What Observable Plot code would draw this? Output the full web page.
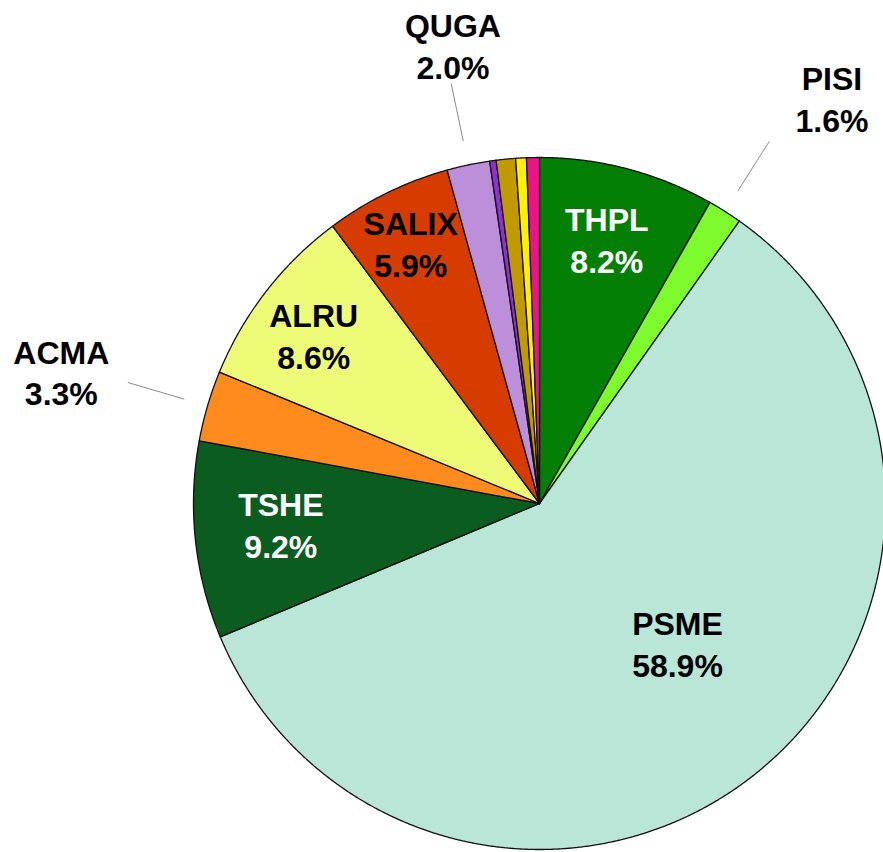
<!DOCTYPE html>
<html>
<head>
<meta charset="utf-8">
<script src="https://cdn.jsdelivr.net/npm/d3@7"></script>
<script src="https://cdn.jsdelivr.net/npm/@observablehq/plot@0.6"></script>
<style>
  body { margin: 0; background: #ffffff; }
  #chart svg { display: block; }
</style>
</head>
<body>
<div id="chart"></div>
<script>
// ---- data (clockwise from 12 o'clock) ----
const species = ["THPL", "PISI", "PSME", "TSHE", "ACMA", "ALRU", "SALIX", "QUGA", "OTHER1", "OTHER2", "OTHER3", "OTHER4"];
const shares = [8.2, 1.6, 58.9, 9.2, 3.3, 8.6, 5.9, 2.0, 0.3, 0.9, 0.5, 0.6];
const labelled = ["THPL", "PISI", "PSME", "TSHE", "ACMA", "ALRU", "SALIX", "QUGA"];
const outsideLabels = ["PISI", "ACMA", "QUGA"];

// ---- styles ----
const sliceColors = {
  THPL: "#037f05", PISI: "#7dfb2c", PSME: "#b9e6d7", TSHE: "#0a5c1f",
  ACMA: "#ff8a1d", ALRU: "#eefb76", SALIX: "#d63b00", QUGA: "#bd8fda",
  OTHER1: "#8e2fd8", OTHER2: "#c09a00", OTHER3: "#fff000", OTHER4: "#ee1288"
};
const labelInk = { THPL: "#ffffff", TSHE: "#ffffff" };

// ---- placement (radius fraction, angle nudge in degrees) ----
const W = 883, H = 852, CX = 539, CY = 503, R = 346;
const placement = {
  THPL: { r: 0.79, da: -0.5 }, PSME: { r: 0.566, da: -6.1 }, TSHE: { r: 0.75, da: 1.6 },
  ALRU: { r: 0.815, da: -1.0 }, SALIX: { r: 0.84, da: -0.2 },
  QUGA: { r: 1.35, da: 1.2 }, PISI: { r: 1.445, da: 3.4 }, ACMA: { r: 1.434, da: -0.9 }
};
const leader = { r0: 1.07, r1: 1.24 };

// ---- derived geometry from data ----
const total = d3.sum(shares);
let acc = 0;
const slices = species.map((name, i) => {
  const a0 = acc / total * 360;
  acc += shares[i];
  const a1 = acc / total * 360;
  return { name, value: shares[i], a0, a1, mid: (a0 + a1) / 2, color: sliceColors[name] };
});
const rad = (deg) => deg * Math.PI / 180;
const px = (deg, r) => r * Math.sin(rad(deg));
const py = (deg, r) => r * Math.cos(rad(deg));

const slicePoints = [];
for (const s of slices) {
  slicePoints.push({ name: s.name, color: s.color, x: 0, y: 0 });
  const n = Math.max(2, Math.ceil((s.a1 - s.a0) / 0.25));
  for (let k = 0; k <= n; k++) {
    const a = s.a0 + (s.a1 - s.a0) * k / n;
    slicePoints.push({ name: s.name, color: s.color, x: px(a, 1), y: py(a, 1) });
  }
  slicePoints.push({ name: s.name, color: s.color, x: 0, y: 0 });
}

const labels = slices.filter(s => labelled.includes(s.name)).map(s => {
  const p = placement[s.name];
  const a = s.mid + p.da;
  return {
    x: px(a, p.r), y: py(a, p.r),
    text: `${s.name}\n${s.value.toFixed(1)}%`,
    ink: labelInk[s.name] || "#000000"
  };
});

const leaders = slices.filter(s => outsideLabels.includes(s.name)).map(s => ({
  x1: px(s.mid, leader.r0), y1: py(s.mid, leader.r0),
  x2: px(s.mid, leader.r1), y2: py(s.mid, leader.r1)
}));

const chart = Plot.plot({
  width: W,
  height: H,
  margin: 0,
  x: { domain: [-1, 1], range: [CX - R, CX + R], axis: null },
  y: { domain: [-1, 1], range: [CY + R, CY - R], axis: null },
  color: { type: "identity" },
  style: { background: "#ffffff", overflow: "hidden" },
  marks: [
    Plot.line(slicePoints, {
      x: "x", y: "y", z: "name", fill: "color",
      stroke: "#111111", strokeWidth: 1.3, strokeLinejoin: "round", curve: "linear"
    }),
    Plot.link(leaders, { x1: "x1", y1: "y1", x2: "x2", y2: "y2", stroke: "#8a8a8a", strokeWidth: 1 }),
    Plot.text(labels, {
      x: "x", y: "y", text: "text", fill: "ink",
      fontSize: 32, fontWeight: "bold", lineHeight: 1.31,
      fontFamily: "Liberation Sans, Arial, sans-serif",
      textAnchor: "middle"
    })
  ]
});
document.getElementById("chart").append(chart);
</script>
</body>
</html>
